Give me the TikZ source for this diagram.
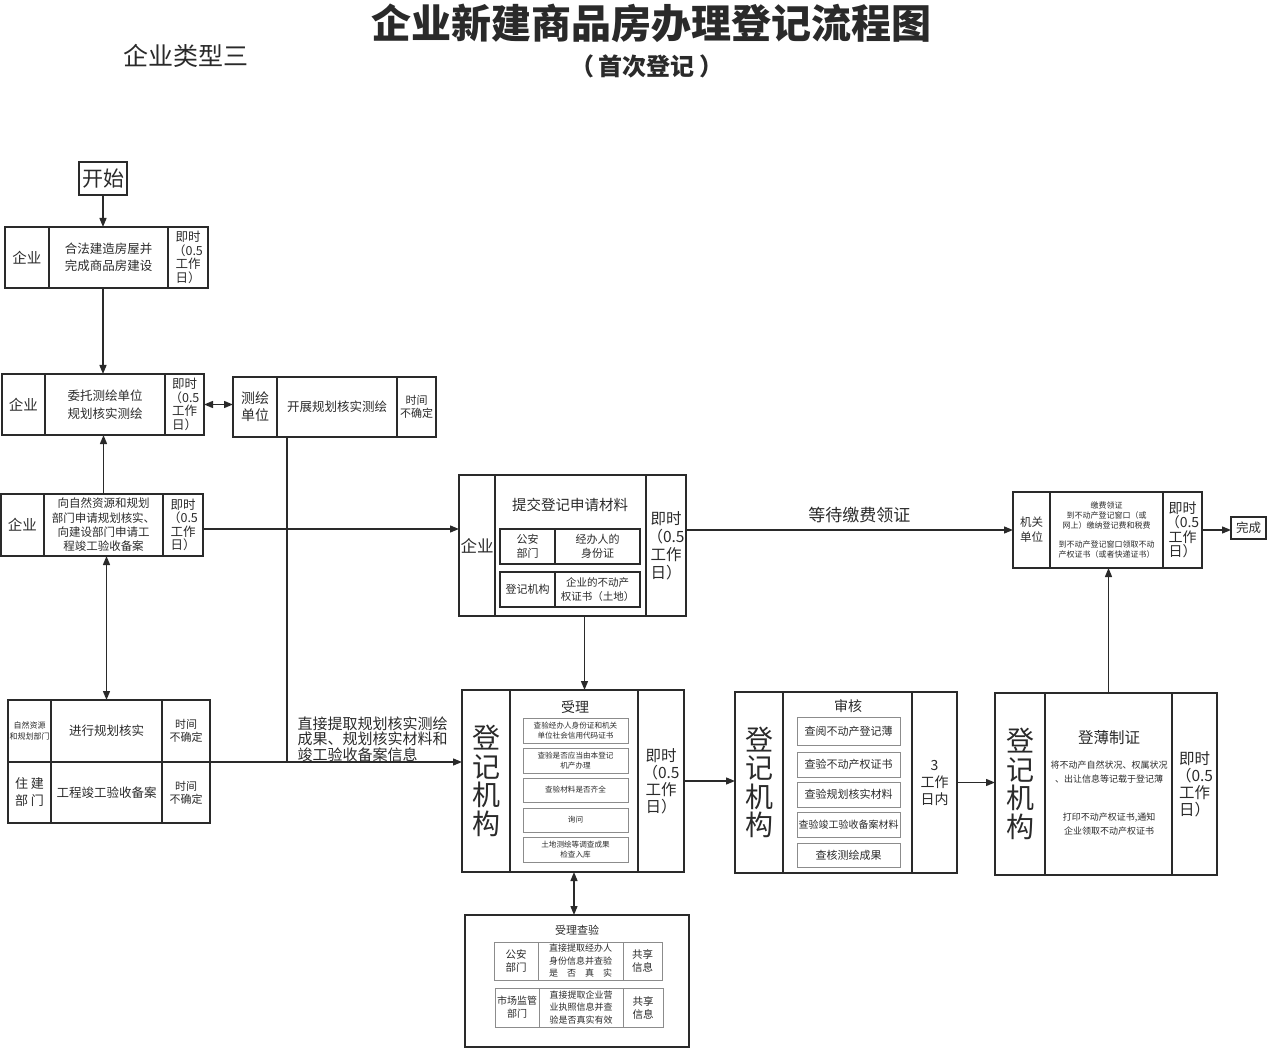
\documentclass[tikz,border=0pt]{standalone}
\usepackage{fontspec}
\setmainfont{Noto Sans CJK SC}
\usepackage{xcolor}
\usepackage{tikz}
\usetikzlibrary{arrows.meta, positioning, calc}
\definecolor{ink}{HTML}{2A2A2A}
\definecolor{soft}{HTML}{8C8C8C}

\begin{document}
\begin{tikzpicture}[
   x=1pt, y=-1pt, color=ink,
   >={Triangle[length=9pt, width=7pt]},
   line width=1.1pt,
   cell/.style={draw, anchor=north west, inner sep=0pt, outer sep=0pt, align=center},
   sub/.style={cell, draw=soft, line width=0.8pt},
   wide/.style={line width=1.6pt},
   sz/.style 2 args={minimum width=#1pt, minimum height=#2pt},
   ft/.style 2 args={font=\fontsize{#1}{#2}\selectfont},
   flow/.style={->, line width=1.3pt},
   both/.style={<->, line width=1.3pt},
]
\useasboundingbox (0,0) rectangle (1269,1048);

% ---- heading ----
\node[ft={40}{44}] (title) at (651,23) {\bfseries 企业新建商品房办理登记流程图};
\node[ft={24}{26}] (subtitle) at (647,66) {\bfseries （\hspace{5pt}首次登记\hspace{5pt}）};
\node[ft={25}{28}] (kind) at (186,56) {企业类型三};

% ---- enterprise column ----
\node[cell, sz={48}{33}, ft={21}{24}] (start) at (79,162) {开始};

\node[cell, sz={44}{61}, ft={14.5}{17}] (b1l) at (5,227) {企业};
\node[cell, sz={119}{61}, ft={12.5}{17}] (b1m) at (49,227) {合法建造房屋并\\完成商品房建设};
\node[cell, sz={40}{61}, ft={12.5}{13.5}] (b1r) at (168,227) {即时\\（0.5\\工作\\日）};

\node[cell, sz={43}{61}, ft={14.5}{17}] (b2l) at (2,374) {企业};
\node[cell, sz={120}{61}, ft={12.5}{18}] (b2m) at (45,374) {委托测绘单位\\规划核实测绘};
\node[cell, sz={39}{61}, ft={12.5}{13.5}] (b2r) at (165,374) {即时\\（0.5\\工作\\日）};

\node[cell, sz={44}{60}, ft={14}{17}] (c1l) at (233,377) {测绘\\单位};
\node[cell, sz={120}{60}, ft={12.5}{15}] (c1m) at (277,377) {开展规划核实测绘};
\node[cell, sz={39}{60}, ft={11}{13}] (c1r) at (397,377) {时间\\不确定};

\node[cell, sz={43}{62}, ft={14.5}{17}] (b3l) at (1,494) {企业};
\node[cell, sz={119}{62}, ft={11.5}{14.3}] (b3m) at (44,494) {向自然资源和规划\\部门申请规划核实、\\向建设部门申请工\\程竣工验收备案};
\node[cell, sz={40}{62}, ft={12.5}{13.5}] (b3r) at (163,494) {即时\\（0.5\\工作\\日）};

\node[cell, sz={43}{62}, ft={8}{11}] (b4a) at (8,700) {自然资源\\和规划部门};
\node[cell, sz={111}{62}, ft={12.5}{15}] (b4b) at (51,700) {进行规划核实};
\node[cell, sz={48}{62}, ft={11}{13}] (b4c) at (162,700) {时间\\不确定};
\node[cell, sz={43}{61}, ft={13}{17}] (b4d) at (8,762) {住 建\\部 门};
\node[cell, sz={111}{61}, ft={12.5}{15}] (b4e) at (51,762) {工程竣工验收备案};
\node[cell, sz={48}{61}, ft={11}{13}] (b4f) at (162,762) {时间\\不确定};

\coordinate (jn) at (287,762);
\node[anchor=north west, inner sep=0pt, align=left, ft={15}{15.5}] (note) at (297,716)
   {直接提取规划核实测绘\\成果、规划核实材料和\\竣工验收备案信息};

% ---- application ----
\node[cell, wide, sz={36}{141}, ft={16.5}{20}] (s1l) at (459,475) {企业};
\node[cell, wide, sz={151}{141}] (s1m) at (495,475) {};
\node[cell, wide, sz={40}{141}, ft={15.5}{18}] (s1r) at (646,475) {即时\\（0.5\\工作\\日）};
\node[ft={14.5}{16}] (s1t) at (570,505) {提交登记申请材料};
\node[cell, sz={55}{35}, ft={11}{14}] (p1a) at (500,529) {公安\\部门};
\node[cell, sz={85}{35}, ft={11}{14}] (p1b) at (555,529) {经办人的\\身份证};
\node[cell, sz={55}{35}, ft={11}{14}] (p2a) at (500,572) {登记机构};
\node[cell, sz={85}{35}, ft={10.5}{14}] (p2b) at (555,572) {企业的不动产\\权证书（土地）};

% ---- acceptance ----
\node[cell, sz={48}{182}, ft={28}{28.5}] (r1l) at (462,690) {登\\记\\机\\构};
\node[cell, sz={128}{182}] (r1m) at (510,690) {};
\node[cell, sz={46}{182}, ft={15.5}{17}] (r1r) at (638,690) {即时\\（0.5\\工作\\日）};
\node[ft={14}{16}] (r1t) at (575,707) {受理};
\node[sub, sz={105}{25}, ft={7.6}{10.5}] (k1) at (523,718) {查验经办人身份证和机关\\单位社会信用代码证书};
\node[sub, sz={105}{25}, ft={7.6}{10.5}] (k2) at (523,748) {查验是否应当由本登记\\机产办理};
\node[sub, sz={105}{24}, ft={7.6}{10.5}] (k3) at (523,778) {查验材料是否齐全};
\node[sub, sz={105}{24}, ft={7.6}{10.5}] (k4) at (523,808) {询问};
\node[sub, sz={105}{25}, ft={7.6}{10.5}] (k5) at (523,837) {土地测绘等调查成果\\检查入库};

% ---- shared check ----
\node[cell, sz={224}{132}] (q0) at (465,915) {};
\node[ft={11}{13}] (q0t) at (577,930) {受理查验};
\node[sub, sz={44}{38}, ft={10.5}{13}] (q1a) at (494,942) {公安\\部门};
\node[sub, sz={85}{38}, ft={9}{12.5}] (q1b) at (538,942) {直接提取经办人\\身份信息并查验\\是\hspace{1em}否\hspace{1em}真\hspace{1em}实};
\node[sub, sz={39}{38}, ft={10.5}{13}] (q1c) at (623,942) {共享\\信息};
\node[sub, sz={44}{39}, ft={10}{13}] (q2a) at (495,988) {市场监管\\部门};
\node[sub, sz={84}{39}, ft={9}{12.5}] (q2b) at (539,988) {直接提取企业营\\业执照信息并查\\验是否真实有效};
\node[sub, sz={40}{39}, ft={10.5}{13}] (q2c) at (623,988) {共享\\信息};

% ---- review ----
\node[cell, sz={48}{181}, ft={28}{28.5}] (r2l) at (735,692) {登\\记\\机\\构};
\node[cell, sz={129}{181}] (r2m) at (783,692) {};
\node[cell, sz={45}{181}, ft={14}{17}] (r2r) at (912,692) {3\\工作\\日内};
\node[ft={14}{16}] (r2t) at (848,706) {审核};
\node[sub, sz={103}{28}, ft={11}{13}] (h1) at (797,717) {查阅不动产登记薄};
\node[sub, sz={103}{25}, ft={11}{13}] (h2) at (797,752) {查验不动产权证书};
\node[sub, sz={103}{25}, ft={11}{13}] (h3) at (797,782) {查验规划核实材料};
\node[sub, sz={103}{25}, ft={10}{13}] (h4) at (797,812) {查验竣工验收备案材料};
\node[sub, sz={103}{24}, ft={11}{13}] (h5) at (797,843) {查核测绘成果};

% ---- registration ----
\node[cell, sz={50}{182}, ft={28}{28.5}] (r3l) at (995,693) {登\\记\\机\\构};
\node[cell, sz={127}{182}] (r3m) at (1045,693) {};
\node[cell, sz={45}{182}, ft={15.5}{17}] (r3r) at (1172,693) {即时\\（0.5\\工作\\日）};
\node[ft={15.5}{18}] (r3t) at (1109,738) {登薄制证};
\node[ft={9}{14}, align=center] (r3a) at (1109,772) {将不动产自然状况、权属状况\\、出让信息等记载于登记薄};
\node[ft={9}{14}, align=center] (r3b) at (1109,824) {打印不动产权证书,通知\\企业领取不动产权证书};

% ---- certificate ----
\node[cell, sz={37}{76}, ft={11.5}{15}] (g1l) at (1013,492) {机关\\单位};
\node[cell, sz={113}{76}, ft={8}{9.7}] (g1m) at (1050,492) {缴费领证\\到不动产登记窗口（或\\网上）缴纳登记费和税费\\[9.7pt]到不动产登记窗口领取不动\\产权证书（或者快递证书）};
\node[cell, sz={39}{76}, ft={14}{14.5}] (g1r) at (1163,492) {即时\\（0.5\\工作\\日）};
\node[cell, sz={35}{22}, ft={12.5}{14}] (done) at (1231,517) {完成};

% ---- arrows ----
\draw[flow] (start.south) -- (start.south |- b1m.north);
\draw[flow] (start.south |- b1m.south) -- (start.south |- b2m.north);
\draw[flow] (b3m.north) -- (b3m.north |- b2m.south);
\draw[both] (b2r.east) -- (b2r.east -| c1l.west);
\draw[flow] ([yshift=-4pt]b3r.east) -- ([yshift=-4pt]b3r.east -| s1l.west);
\draw[both] (b4b.north |- b3m.south) -- (b4b.north);
\draw (c1m.south -| jn) -- (jn);
\draw[flow] (b4f.north east) -- (b4f.north east -| r1l.west);
\draw[flow] ([xshift=14pt]s1m.south) -- ([xshift=14pt]s1m.south |- r1m.north);
\draw[flow] (g1l.west -| s1r.east) -- (g1l.west)
   node[pos=0.53, above=3pt, ft={17}{19}] {等待缴费领证};
\draw[flow] (r1r.east) -- (r1r.east -| r2l.west);
\draw[both] (r1m.south) -- (r1m.south |- q0.north);
\draw[flow] (r2r.east) -- (r2r.east -| r3l.west);
\draw[flow] (r3m.north) -- (r3m.north |- g1m.south);
\draw[flow] (g1r.east) -- (g1r.east -| done.west);
\end{tikzpicture}
\end{document}
